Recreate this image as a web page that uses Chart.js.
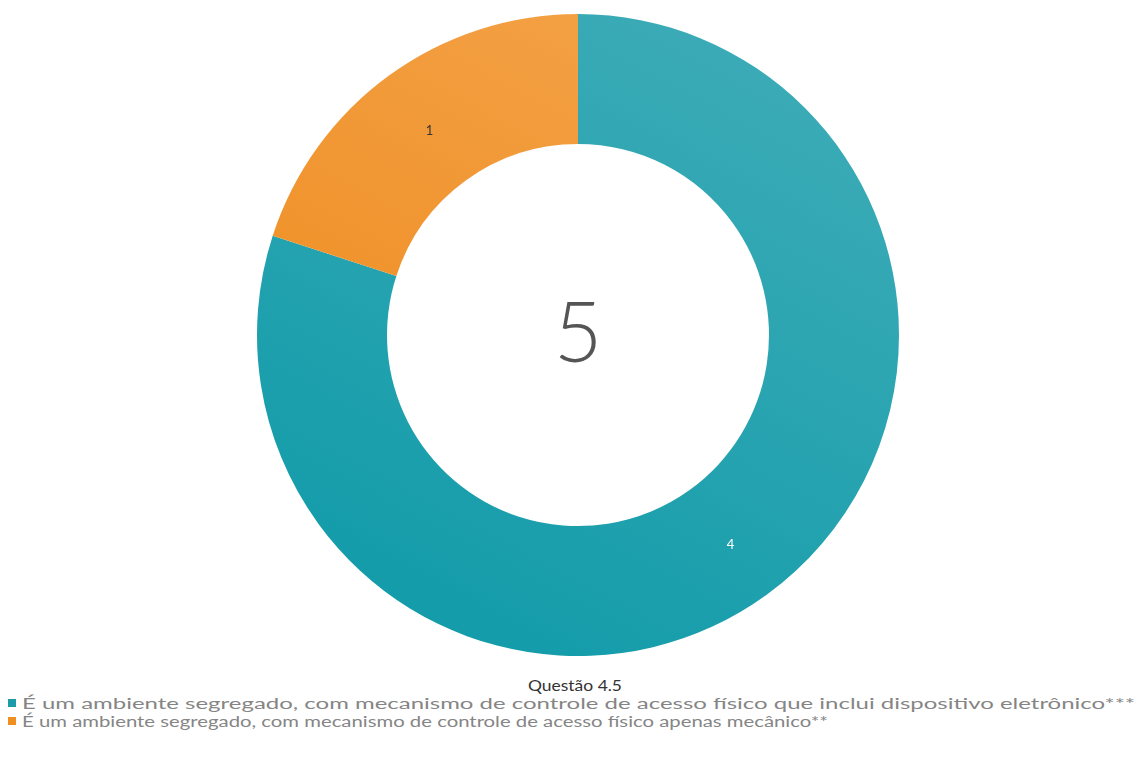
<!DOCTYPE html>
<html>
<head>
<meta charset="utf-8">
<script src="https://cdn.jsdelivr.net/npm/chart.js@4"></script>
<style>
  html, body { margin: 0; padding: 0; background: #fff; }
  body { width: 1148px; height: 760px; position: relative; overflow: hidden; font-family: Lato, "Open Sans", sans-serif; }
  #wrap { position: absolute; left: 0; top: 0; width: 1148px; height: 670px; }
  #legend { position: absolute; left: 0; top: 676px; width: 1148px; }
  #ltitle { position: relative; height: 18px; line-height: 18px; }
  #ltitle span { position: absolute; left: 528px; top: 0; font-size: 16px; color: #333; transform-origin: 0 50%; white-space: nowrap; }
  .item { position: relative; height: 18px; line-height: 18px; white-space: nowrap; }
  .box { position: absolute; left: 8px; top: 5px; width: 8px; height: 8px; }
  .txt { position: absolute; left: 22px; top: 0; font-size: 15.5px; color: #858585; transform-origin: 0 50%; }
</style>
</head>
<body>
<div id="wrap"><canvas id="c"></canvas></div>
<div id="legend">
  <div id="ltitle"><span id="tt"></span></div>
  <div id="items"></div>
</div>
<script>
const chartTitle = "Questão 4.5";
const categories = [
  "É um ambiente segregado, com mecanismo de controle de acesso físico que inclui dispositivo eletrônico***",
  "É um ambiente segregado, com mecanismo de controle de acesso físico apenas mecânico**"
];
const values = [4, 1];
const totalLabel = "5";
const colorsTop = ["#40adb8", "#f4a54d"];
const colorsBottom = ["#149caa", "#ee8a1c"];
const legendColors = ["#1e9aa8", "#ef8f22"];
const labelColors = ["#ffffff", "#333333"];
const legendTextWidths = [1113, 806];
const titleWidth = 94;

const centerText = {
  id: 'centerText',
  afterDraw(chart) {
    const meta = chart.getDatasetMeta(0);
    const arc = meta.data[0];
    if (!arc) return;
    const ctx = chart.ctx;
    ctx.save();
    ctx.fillStyle = '#555';
    ctx.font = '300 84px Lato, "Open Sans", sans-serif';
    ctx.textAlign = 'center';
    ctx.textBaseline = 'middle';
    ctx.fillText(totalLabel, arc.x, arc.y);
    ctx.font = '13px Lato, sans-serif';
    meta.data.forEach((a, i) => {
      const p = a.tooltipPosition();
      ctx.fillStyle = labelColors[i];
      ctx.fillText(String(values[i]), p.x + 2, p.y + 3);
    });
    ctx.restore();
  }
};

new Chart(document.getElementById('c'), {
  type: 'doughnut',
  data: {
    labels: categories,
    datasets: [{
      data: values,
      borderWidth: 0,
      backgroundColor(ctx) {
        const ch = ctx.chart;
        const a = ch.chartArea;
        if (!a) return colorsBottom[ctx.dataIndex];
        const w = a.right - a.left;
        const g = ch.ctx.createLinearGradient(a.left + w * 0.75, a.top, a.left + w * 0.45, a.bottom);
        g.addColorStop(0, colorsTop[ctx.dataIndex]);
        g.addColorStop(1, colorsBottom[ctx.dataIndex]);
        return g;
      }
    }]
  },
  options: {
    responsive: true,
    maintainAspectRatio: false,
    animation: false,
    cutout: '59.5%',
    layout: { padding: { top: 14, bottom: 14, left: 8, right: 0 } },
    plugins: { legend: { display: false }, tooltip: { enabled: false } }
  },
  plugins: [centerText]
});

const tt = document.getElementById('tt');
tt.textContent = chartTitle;
tt.style.transform = 'scaleX(' + (titleWidth / tt.getBoundingClientRect().width) + ')';

const items = document.getElementById('items');
categories.forEach((c, i) => {
  const d = document.createElement('div');
  d.className = 'item';
  const b = document.createElement('span');
  b.className = 'box';
  b.style.background = legendColors[i];
  const t = document.createElement('span');
  t.className = 'txt';
  t.textContent = c;
  d.appendChild(b); d.appendChild(t);
  items.appendChild(d);
  const w = t.getBoundingClientRect().width;
  t.style.transform = 'scaleX(' + (legendTextWidths[i] / w) + ')';
});
</script>
</body>
</html>
